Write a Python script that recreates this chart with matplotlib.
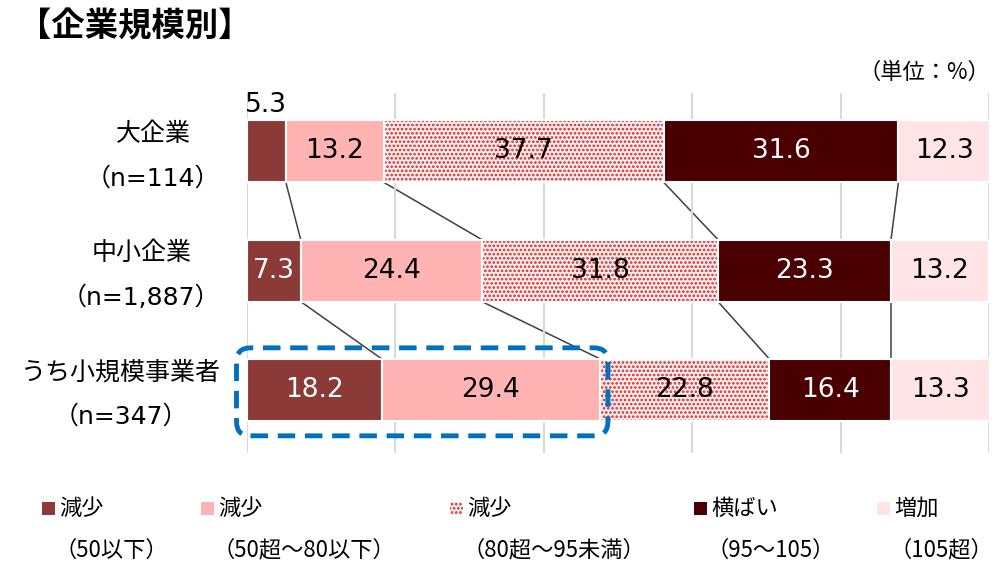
import numpy as np
import matplotlib.pyplot as plt
from matplotlib.patches import FancyBboxPatch, Rectangle

plt.rcParams['font.family'] = ['DejaVu Sans', 'Noto Sans CJK JP']
plt.rcParams['hatch.linewidth'] = 1.3

# shares by company size (%), order: 50以下, 50超～80以下, 80超～95未満, 95～105, 105超
groups = ['大企業\n（n=114）', '中小企業\n（n=1,887）', 'うち小規模事業者\n（n=347）']
shares = np.array([
    [5.3, 13.2, 37.7, 31.6, 12.3],
    [7.3, 24.4, 31.8, 23.3, 13.2],
    [18.2, 29.4, 22.8, 16.4, 13.3],
])
legend_top = ['減少', '減少', '減少', '横ばい', '増加']
legend_bottom = ['（50以下）', '（50超～80以下）', '（80超～95未満）', '（95～105）', '（105超）']

colors = ['#8c3a37', '#ffb3b3', '#fdf0f0', '#4a0000', '#ffe4e6']
text_colors = ['white', 'black', 'black', 'white', 'black']
hatch_color = '#d42a2a'
bar_h = 0.52

fig = plt.figure(figsize=(9.97, 5.66), dpi=100)
ax = fig.add_axes([246.5 / 997, 1 - 453 / 566, (989 - 246.5) / 997, (453 - 93) / 566])

ypos = np.arange(len(groups))
left = np.zeros(len(groups))
for k in range(shares.shape[1]):
    vals = shares[:, k]
    if k == 2:
        ax.barh(ypos, vals, left=left, height=bar_h, color=colors[k],
                edgecolor=hatch_color, linewidth=0, hatch='....', zorder=2)
        ax.barh(ypos, vals, left=left, height=bar_h, color='none',
                edgecolor='white', linewidth=1.5, zorder=3)
    else:
        ax.barh(ypos, vals, left=left, height=bar_h, color=colors[k],
                edgecolor='white', linewidth=1.5, zorder=3)
    for i, v in enumerate(vals):
        cx = left[i] + v / 2
        if v < 6:
            ax.text(cx, ypos[i] - bar_h / 2 - 0.02, f'{v:.1f}', ha='center', va='bottom',
                    fontsize=19, color='black', zorder=5)
        else:
            ax.text(cx, ypos[i], f'{v:.1f}', ha='center', va='center',
                    fontsize=19, color=text_colors[k], zorder=5)
    left += vals

# connector lines between segment boundaries of adjacent rows
cum = np.cumsum(shares, axis=1)
for i in range(len(groups) - 1):
    for k in range(shares.shape[1] - 1):
        ax.plot([cum[i, k], cum[i + 1, k]],
                [ypos[i] + bar_h / 2, ypos[i + 1] - bar_h / 2],
                color='#404040', lw=1.1, zorder=1, clip_on=False)

ax.set_xlim(0, 100)
ax.set_ylim(2.53, -0.49)
ax.set_xticks(np.arange(0, 101, 20))
ax.grid(axis='x', color='#d9d9d9', lw=1.5, zorder=0)
ax.tick_params(left=False, bottom=False, labelbottom=False, labelleft=False)
for s in ax.spines.values():
    s.set_visible(False)

for i, g in enumerate(groups):
    ax.text(-3.5, ypos[i] + 0.04, g, ha='right', va='center', multialignment='center',
            fontsize=18, linespacing=2.1)

# dashed rounded frame around the two lowest groups of the last row
fig.canvas.draw()
(x0, y0) = ax.transData.transform((0, ypos[2] + bar_h / 2))
(x1, y1) = ax.transData.transform((cum[2, 1], ypos[2] - bar_h / 2))
W, H = fig.bbox.width, fig.bbox.height
bx0, bx1 = x0 - 10, x1 + 8
by0, by1 = y0 - 15, y1 + 11
box = FancyBboxPatch((bx0 / W, by0 / H), (bx1 - bx0) / W, (by1 - by0) / H,
                     boxstyle='round,pad=0,rounding_size=%f' % (14 / W),
                     mutation_aspect=W / H, transform=fig.transFigure,
                     facecolor='none', edgecolor='#0070c0', lw=3.5,
                     linestyle=(0, (3.6, 2.0)), zorder=6)
fig.patches.append(box)

fig.text(18 / 997, 1 - 27 / 566, '【企業規模別】', fontsize=24, fontweight='bold',
         ha='left', va='center', family='Noto Sans CJK JP')
fig.text(990 / 997, 1 - 72 / 566, '（単位：%）', fontsize=16,
         ha='right', va='center', family='Noto Sans CJK JP')

# legend
leg_x = [42, 201, 450, 694, 877]
for k in range(len(legend_top)):
    sq = Rectangle((leg_x[k] / 997, 1 - 515 / 566), 13 / 997, 13 / 566,
                   transform=fig.transFigure, facecolor=colors[k],
                   edgecolor=hatch_color if k == 2 else 'none', lw=0,
                   hatch='....' if k == 2 else None)
    fig.patches.append(sq)
    fig.text((leg_x[k] + 17) / 997, 1 - 508 / 566, legend_top[k], fontsize=16,
             ha='left', va='center', family='Noto Sans CJK JP')
    fig.text((leg_x[k] + 12) / 997, 1 - 550 / 566, legend_bottom[k], fontsize=16,
             ha='left', va='center', family='Noto Sans CJK JP')

fig.savefig('out.png', dpi=100, facecolor='white')
